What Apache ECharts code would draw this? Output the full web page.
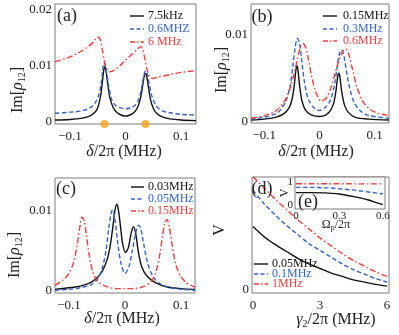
<!DOCTYPE html>
<html>
<head>
<meta charset="utf-8">
<script src="https://cdn.jsdelivr.net/npm/echarts@6/dist/echarts.min.js"></script>
<style>
  html, body { margin: 0; padding: 0; background: #fff; }
  #chart { width: 399px; height: 335px; }
</style>
</head>
<body>
<div id="chart"></div>
<script>
// ---- panel (a): Im[rho12] vs detuning ----
var aBlack = [[-0.127,0.0003],[-0.1,0.0004],[-0.08,0.0006],[-0.065,0.0010],[-0.055,0.0017],[-0.05,0.0025],[-0.045,0.0045],[-0.042,0.0068],[-0.039,0.0093],[-0.037,0.0098],[-0.035,0.0090],[-0.032,0.0068],[-0.028,0.0042],[-0.022,0.0025],[-0.015,0.0016],[-0.008,0.0012],[0,0.0010],[0.008,0.0012],[0.015,0.0016],[0.021,0.0024],[0.026,0.0038],[0.030,0.0058],[0.033,0.0078],[0.036,0.0086],[0.038,0.0082],[0.041,0.0064],[0.045,0.0040],[0.05,0.0024],[0.056,0.0015],[0.065,0.0009],[0.08,0.0005],[0.1,0.0003],[0.127,0.0002]];
var aBlue = [[-0.127,0.0015],[-0.1,0.0017],[-0.08,0.0019],[-0.065,0.0024],[-0.055,0.0033],[-0.048,0.0048],[-0.044,0.0068],[-0.041,0.0092],[-0.039,0.0105],[-0.037,0.0103],[-0.034,0.0088],[-0.03,0.0062],[-0.025,0.0040],[-0.018,0.0029],[-0.01,0.0025],[0,0.0023],[0.01,0.0025],[0.018,0.0030],[0.024,0.0040],[0.029,0.0060],[0.033,0.0082],[0.036,0.0091],[0.039,0.0086],[0.043,0.0066],[0.048,0.0044],[0.055,0.0029],[0.065,0.0020],[0.08,0.0016],[0.1,0.0013],[0.127,0.0012]];
var aRed = [[-0.127,0.0107],[-0.11,0.0112],[-0.09,0.0120],[-0.07,0.0132],[-0.058,0.0142],[-0.05,0.0151],[-0.046,0.0148],[-0.042,0.0130],[-0.038,0.0108],[-0.034,0.0095],[-0.028,0.0089],[-0.02,0.0092],[-0.01,0.0100],[0,0.0110],[0.01,0.0119],[0.02,0.0128],[0.027,0.0134],[0.031,0.0130],[0.035,0.0112],[0.039,0.0092],[0.043,0.0081],[0.048,0.0077],[0.06,0.0080],[0.08,0.0084],[0.1,0.0088],[0.127,0.0091]];
var aDots = [[-0.038,-0.0004],[0.036,-0.0004]];

// ---- panel (b) ----
var bBlack = [[-0.124,0.0002],[-0.1,0.0003],[-0.08,0.0005],[-0.065,0.0009],[-0.055,0.0016],[-0.05,0.0025],[-0.046,0.0040],[-0.043,0.0058],[-0.041,0.0065],[-0.039,0.0060],[-0.036,0.0042],[-0.032,0.0025],[-0.025,0.0013],[-0.015,0.0008],[0,0.0006],[0.012,0.0008],[0.02,0.0013],[0.026,0.0022],[0.03,0.0036],[0.033,0.0052],[0.035,0.0056],[0.037,0.0052],[0.040,0.0036],[0.045,0.0020],[0.052,0.0011],[0.065,0.0005],[0.09,0.0003],[0.126,0.0002]];
var bBlue = [[-0.124,0.0003],[-0.1,0.0005],[-0.08,0.0009],[-0.07,0.0014],[-0.06,0.0025],[-0.053,0.0042],[-0.048,0.0065],[-0.044,0.0086],[-0.04,0.0096],[-0.036,0.0090],[-0.032,0.0070],[-0.027,0.0045],[-0.02,0.0026],[-0.01,0.0016],[0,0.0013],[0.01,0.0016],[0.02,0.0025],[0.027,0.0042],[0.032,0.0062],[0.036,0.0078],[0.04,0.0083],[0.044,0.0077],[0.049,0.0058],[0.055,0.0038],[0.063,0.0022],[0.075,0.0012],[0.09,0.0007],[0.126,0.0004]];
var bRed = [[-0.124,0.0004],[-0.1,0.0007],[-0.08,0.0012],[-0.065,0.0022],[-0.055,0.0035],[-0.047,0.0052],[-0.04,0.0072],[-0.035,0.0085],[-0.03,0.0090],[-0.025,0.0086],[-0.02,0.0072],[-0.014,0.0052],[-0.007,0.0035],[0.003,0.0024],[0.012,0.0027],[0.02,0.0038],[0.028,0.0055],[0.036,0.0072],[0.043,0.0082],[0.048,0.0084],[0.053,0.0078],[0.06,0.0060],[0.068,0.0040],[0.078,0.0024],[0.09,0.0015],[0.105,0.0010],[0.126,0.0007]];

// ---- panel (c) ----
var cBlack = [[-0.125,0.0002],[-0.1,0.0004],[-0.08,0.0006],[-0.06,0.0011],[-0.045,0.0020],[-0.035,0.0033],[-0.028,0.0050],[-0.022,0.0078],[-0.018,0.0100],[-0.015,0.0108],[-0.012,0.0102],[-0.008,0.0080],[-0.004,0.0058],[0.001,0.0048],[0.006,0.0054],[0.011,0.0072],[0.015,0.0080],[0.019,0.0072],[0.024,0.0048],[0.03,0.0030],[0.04,0.0018],[0.055,0.0010],[0.075,0.0005],[0.1,0.0003],[0.125,0.0002]];
var cBlue = [[-0.125,0.0001],[-0.1,0.0002],[-0.08,0.0004],[-0.06,0.0008],[-0.048,0.0016],[-0.04,0.0030],[-0.034,0.0050],[-0.029,0.0078],[-0.025,0.0096],[-0.022,0.0101],[-0.018,0.0090],[-0.013,0.0060],[-0.007,0.0034],[0,0.0022],[0.007,0.0030],[0.013,0.0050],[0.019,0.0072],[0.024,0.0082],[0.028,0.0078],[0.033,0.0060],[0.04,0.0036],[0.05,0.0018],[0.065,0.0008],[0.09,0.0003],[0.125,0.0001]];
var cRed = [[-0.125,0.0007],[-0.11,0.0014],[-0.1,0.0022],[-0.092,0.0035],[-0.086,0.0055],[-0.081,0.0078],[-0.077,0.0092],[-0.073,0.0088],[-0.069,0.0070],[-0.064,0.0045],[-0.058,0.0025],[-0.05,0.0013],[-0.035,0.0006],[-0.015,0.0003],[0,0.0003],[0.015,0.0003],[0.035,0.0006],[0.048,0.0013],[0.056,0.0025],[0.062,0.0045],[0.067,0.0068],[0.071,0.0085],[0.075,0.0089],[0.079,0.0080],[0.084,0.0058],[0.09,0.0035],[0.098,0.0020],[0.11,0.0010],[0.125,0.0005]];

// ---- panel (d): visibility V vs gamma2 ----
var dGamma = [0,0.5,1,1.5,2,2.5,3,3.5,4,4.5,5,5.5,6];
var dBlack = [0.56,0.47,0.40,0.34,0.28,0.23,0.19,0.15,0.12,0.09,0.07,0.05,0.035];
var dBlue  = [0.88,0.76,0.66,0.57,0.49,0.41,0.35,0.29,0.23,0.18,0.14,0.10,0.07];
var dRed   = [1.0,0.90,0.80,0.71,0.62,0.54,0.46,0.39,0.32,0.26,0.21,0.16,0.12];

// ---- inset (e): V vs Omega_p ----
var eOmega = [0,0.1,0.2,0.25,0.3,0.35,0.4,0.45,0.5,0.55,0.6];
var eBlack = [0.54,0.54,0.53,0.51,0.48,0.43,0.37,0.30,0.22,0.12,0.02];
var eBlue  = [0.77,0.77,0.75,0.74,0.71,0.68,0.65,0.61,0.57,0.53,0.48];
var eRed   = [0.93,0.93,0.93,0.93,0.93,0.93,0.92,0.92,0.92,0.92,0.92];

var BLACK = '#111111', BLUE = '#3563c4', RED = '#ef3e3e', FRAME = '#7d7d7d';
var SERIF = 'Liberation Serif';
var SOLID = 'solid', DASH = [4.5, 2.5], DASHDOT = [6, 2.5, 1.5, 2.5];

function zip(xs, ys) {
  return xs.map(function (x, i) { return [x, ys[i]]; });
}
function minus(v) { return String(v).replace('-', '\u2212'); }

function grid(left, top, width, height, extra) {
  var g = { left: left, top: top, width: width, height: height, show: true,
    borderColor: FRAME, borderWidth: 1, backgroundColor: 'transparent', containLabel: false };
  return Object.assign(g, extra || {});
}
function axis(gi, min, max, ticks, pos, fs, margin, z) {
  return {
    type: 'value', gridIndex: gi, min: min, max: max, position: pos, z: z || 0,
    axisLine: { show: false },
    splitLine: { show: false },
    axisTick: { show: false },
    axisLabel: { customValues: ticks, fontFamily: SERIF, fontSize: fs, color: '#222', margin: margin, formatter: minus }
  };
}
function line(data, color, dash, idx, z) {
  return {
    type: 'line', xAxisIndex: idx, yAxisIndex: idx, data: data, showSymbol: false,
    smooth: 0.3, silent: true, z: z || 2,
    lineStyle: { color: color, width: 1.4, type: dash }
  };
}

function legend(x1, x2, tx, ys, labels, fs) {
  var colors = [BLACK, BLUE, RED], dashes = [null, [4, 2.5], [5, 2, 1.5, 2]], out = [];
  labels.forEach(function (lab, i) {
    out.push({ type: 'line', shape: { x1: x1, y1: ys[i], x2: x2, y2: ys[i] }, z: 20,
      style: { stroke: colors[i], lineWidth: 1.4, lineDash: dashes[i] } });
    out.push({ type: 'text', x: tx, y: ys[i], z: 20,
      style: { text: lab, fill: colors[i], font: fs + 'px ' + SERIF, align: 'left', verticalAlign: 'middle',
        textAlign: 'left', textVerticalAlign: 'middle' } });
  });
  return out;
}
function label(txt, x, y, fs, rot, rich) {
  var st = { text: txt, fill: '#222', font: fs + 'px ' + SERIF, fontSize: fs, fontFamily: SERIF,
    align: 'center', verticalAlign: 'middle', textAlign: 'center', textVerticalAlign: 'middle' };
  if (rich) st.rich = rich;
  return { type: 'text', x: x, y: y, rotation: rot || 0, z: 20, style: st };
}

var richIm = {
  n: { fontFamily: SERIF, fontSize: 16, color: '#222' },
  i: { fontFamily: SERIF, fontSize: 16, fontStyle: 'italic', color: '#222' },
  s: { fontFamily: SERIF, fontSize: 10, color: '#222', padding: [8, 0, 0, 0] }
};
var imText = '{n|Im[}{i|\u03c1}{s|12}{n|]}';
var deltaText = '{i|\u03b4}{n|/2\u03c0 (MHz)}';
var gammaText = '{i|\u03b3}{s|2}{n|/2\u03c0 (MHz)}';
var richE = {
  n: { fontFamily: SERIF, fontSize: 12, color: '#222' },
  s: { fontFamily: SERIF, fontSize: 8, color: '#222', padding: [6, 0, 0, 0] }
};

var chart = echarts.init(document.getElementById('chart'), null, { renderer: 'canvas' });
chart.setOption({
  animation: false,
  backgroundColor: '#fff',
  grid: [
    grid(55, 4, 141, 120),
    grid(251, 4, 138, 119),
    grid(55, 178, 140, 115),
    grid(252, 177, 137, 116),
    grid(295, 177, 90, 32, { backgroundColor: '#fff', z: 10 })
  ],
  xAxis: [
    axis(0, -0.127, 0.127, [-0.1, 0, 0.1], 'bottom', 13, 6),
    axis(1, -0.124, 0.126, [-0.1, 0, 0.1], 'bottom', 13, 6),
    axis(2, -0.125, 0.125, [-0.1, 0, 0.1], 'bottom', 13, 6),
    axis(3, -0.045, 6.09, [0, 3, 6], 'bottom', 13, 6),
    axis(4, -0.007, 0.615, [0, 0.3, 0.6], 'bottom', 11, 2, 11)
  ],
  yAxis: [
    axis(0, -0.00041, 0.0210, [0, 0.01, 0.02], 'left', 13, 3),
    axis(1, -0.00015, 0.01358, [0, 0.01], 'left', 13, 3),
    axis(2, -0.00025, 0.01407, [0, 0.01], 'left', 13, 3),
    axis(3, -0.026, 0.997, [0, 1], 'left', 13, 3),
    axis(4, -0.17, 1.22, [0, 1], 'left', 11, 2, 11)
  ],
  series: [
    line(aBlack, BLACK, SOLID, 0), line(aBlue, BLUE, DASH, 0), line(aRed, RED, DASHDOT, 0),
    { type: 'scatter', xAxisIndex: 0, yAxisIndex: 0, data: aDots, symbolSize: 8, clip: false, z: 5,
      itemStyle: { color: '#f5a11c' }, silent: true },
    line(bBlack, BLACK, SOLID, 1), line(bBlue, BLUE, DASH, 1), line(bRed, RED, DASHDOT, 1),
    line(cBlack, BLACK, SOLID, 2), line(cBlue, BLUE, DASH, 2), line(cRed, RED, DASHDOT, 2),
    line(zip(dGamma, dBlack), BLACK, SOLID, 3), line(zip(dGamma, dBlue), BLUE, DASH, 3),
    line(zip(dGamma, dRed), RED, DASHDOT, 3),
    line(zip(eOmega, eBlack), BLACK, SOLID, 4, 12), line(zip(eOmega, eBlue), BLUE, DASH, 4, 12),
    line(zip(eOmega, eRed), RED, DASHDOT, 4, 12)
  ],
  graphic: [].concat(
    legend(130, 144, 148, [16, 29, 42], ['7.5kHz', '0.6MHZ', '6 MHz'], 12),
    legend(323, 337, 343, [16, 29, 41], ['0.15MHz', '0.3MHz', '0.6MHz'], 12),
    legend(131, 144, 148, [187, 199, 211], ['0.03MHz', '0.05MHz', '0.15MHz'], 12),
    legend(254, 268, 272, [264, 274, 284], ['0.05MHz', '0.1MHz', '1MHz'], 12),
    [
      label('(a)', 67, 16, 18),
      label('(b)', 262, 17, 18),
      label('(c)', 66, 189, 18),
      label('(d)', 262, 189, 18),
      label('(e)', 308, 202, 18),
      label(imText, 18, 90, 16, Math.PI / 2, richIm),
      label(imText, 222, 70, 16, Math.PI / 2, richIm),
      label(imText, 15, 255, 16, Math.PI / 2, richIm),
      label('V', 220, 230, 16, Math.PI / 2),
      label('V', 285, 193, 12, Math.PI / 2),
      label(deltaText, 124, 152, 16, 0, richIm),
      label(deltaText, 316, 152, 16, 0, richIm),
      label(deltaText, 122, 319, 16, 0, richIm),
      label(gammaText, 336, 320, 16, 0, richIm),
      label('{n|\u03a9}{s|p}{n|/2\u03c0}', 336, 225, 12, 0, richE)
    ]
  )
});
</script>
</body>
</html>
